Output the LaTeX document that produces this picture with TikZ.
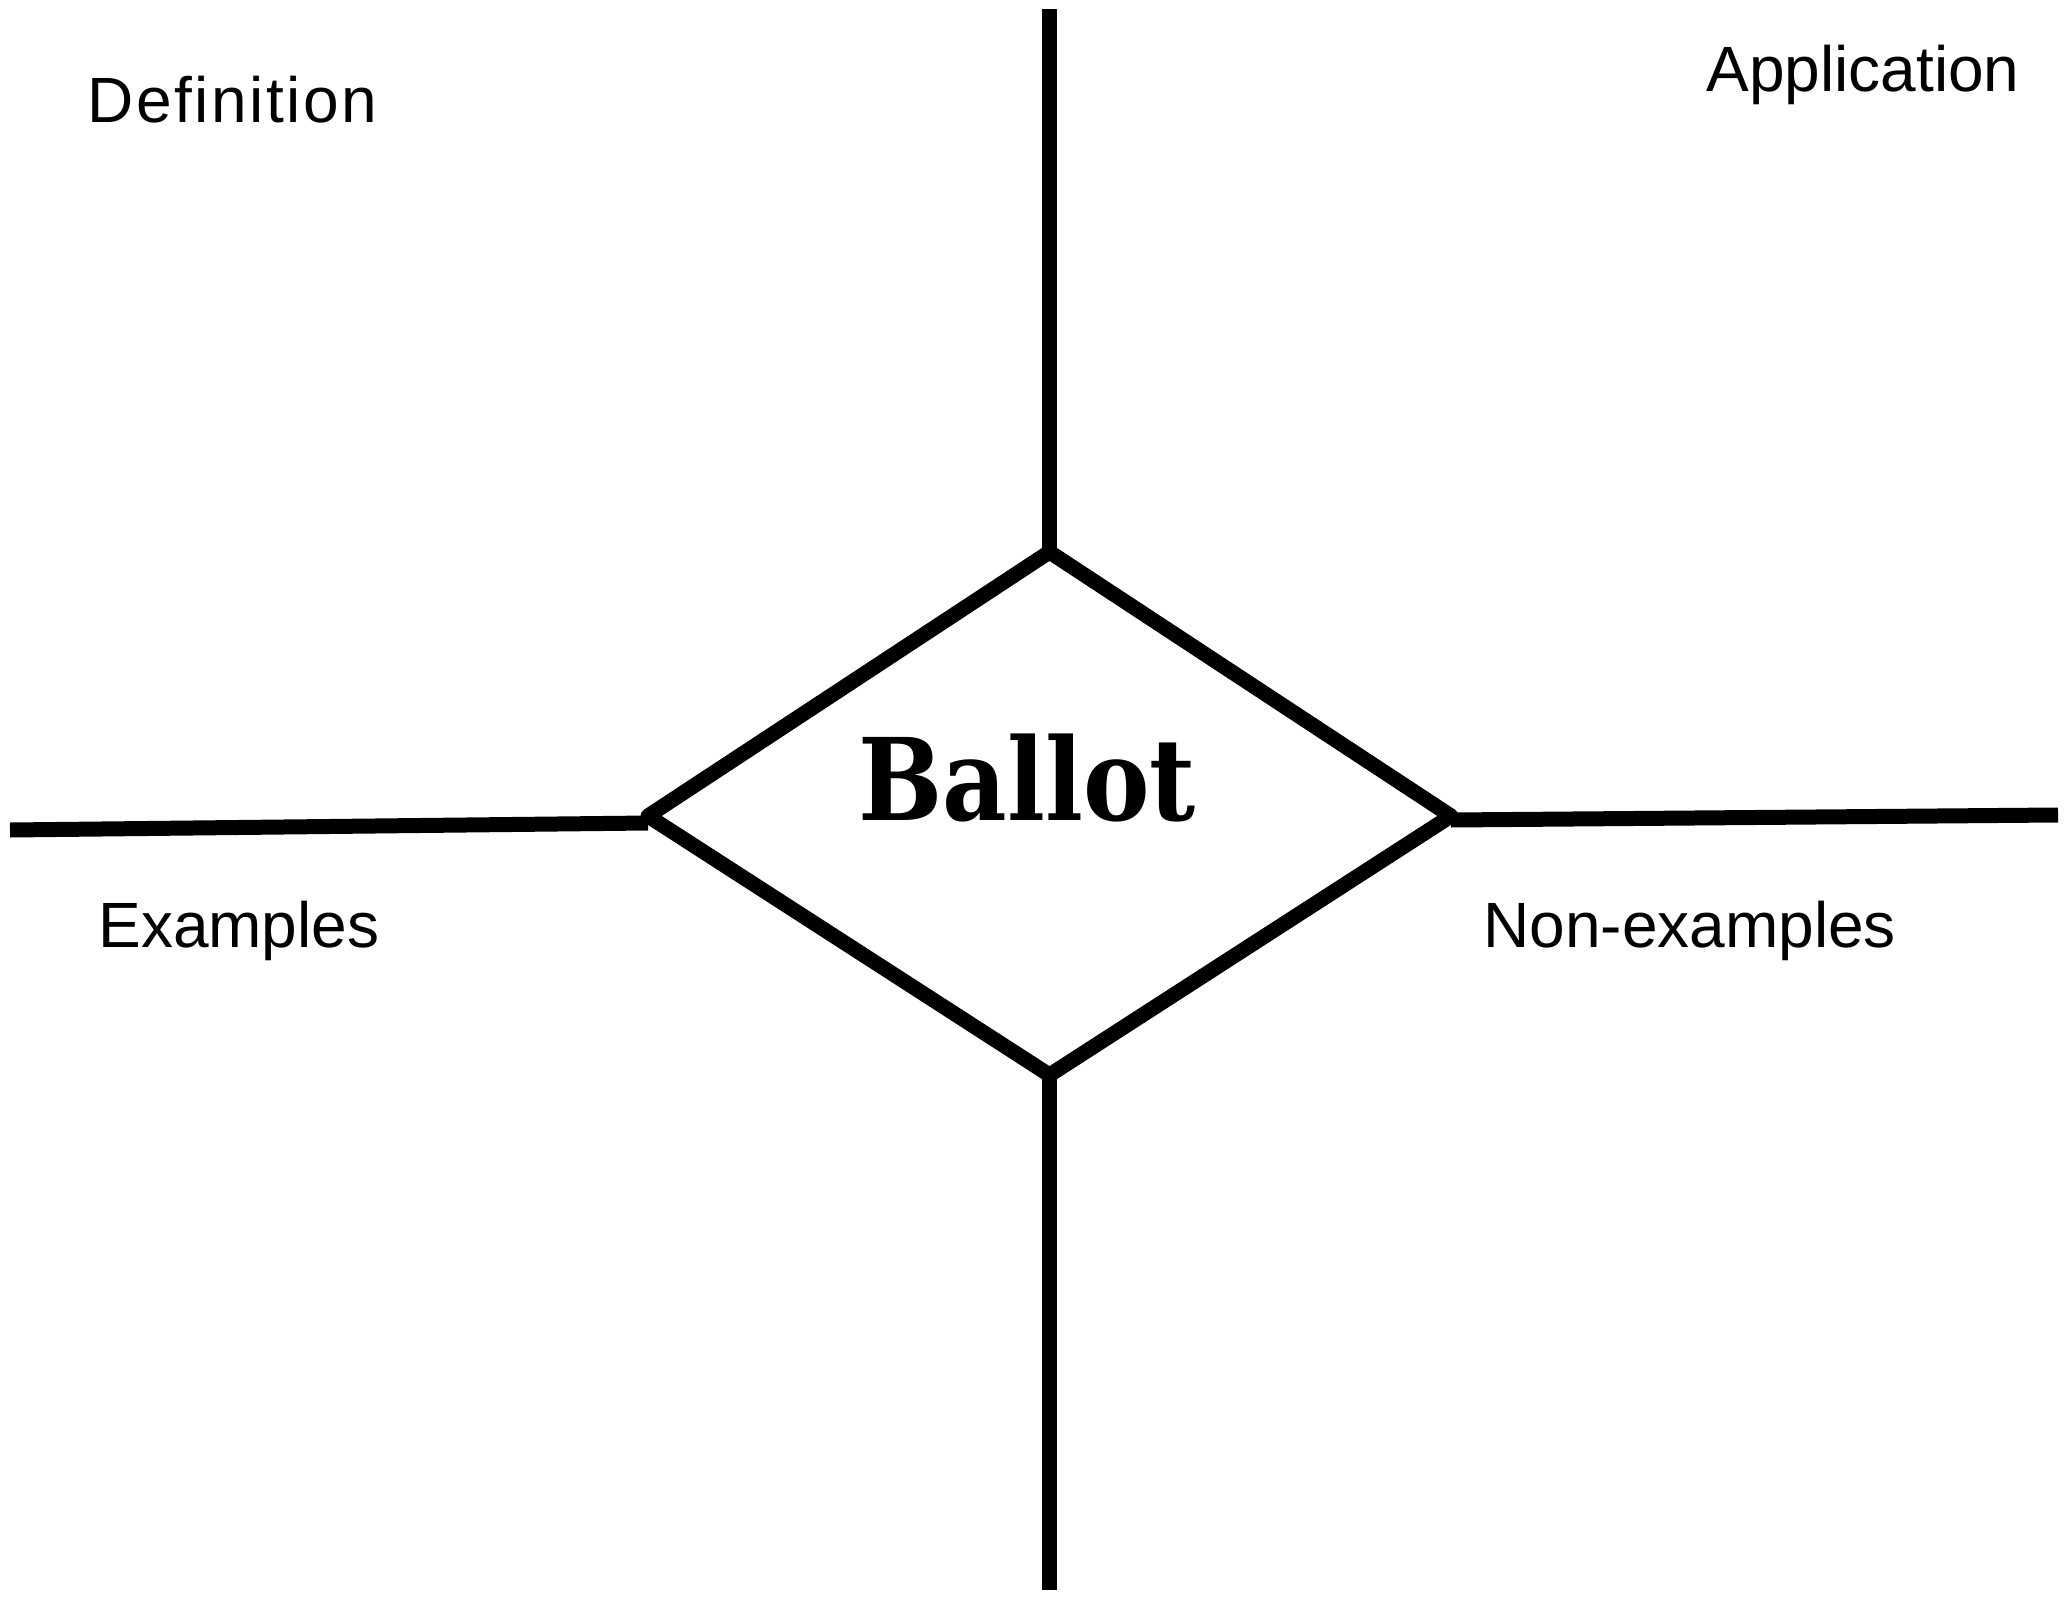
\documentclass[tikz,border=0pt]{standalone}
\usepackage{fontspec}
\newfontfamily\labelfont{Liberation Sans}
\newfontfamily\ballotfont{DejaVu Serif}
\begin{document}
\begin{tikzpicture}[x=0.5pt,y=-0.5pt,
  thick line/.style={line width=7.5pt,draw=black},
  label text/.style={inner sep=0pt,anchor=base west,font=\labelfont\fontsize{32pt}{38pt}\selectfont},
  title text/.style={inner sep=0pt,anchor=base west,font=\ballotfont\bfseries\fontsize{57pt}{66pt}\selectfont}]
\useasboundingbox[fill=white] (0,0) rectangle (2070,1599);
% diamond corners
\coordinate (T) at (1049.5,552);
\coordinate (L) at (648,816);
\coordinate (R) at (1451,816);
\coordinate (B) at (1049.5,1075);
% free line ends
\coordinate (top) at (1049.5,9);
\coordinate (bot) at (1049.5,1590);
\coordinate (lft) at (10,830);
\coordinate (lin) at (648,823);
\coordinate (rgt) at (2058,815);
\coordinate (rin) at (1451,820);
% spokes
\draw[thick line] (top) -- (T);
\draw[thick line] (B) -- (bot);
\draw[thick line] (lft) -- (lin);
\draw[thick line] (rin) -- (rgt);
% diamond
\draw[thick line,line join=round] (T) -- (R) -- (B) -- (L) -- cycle;
% labels
\node[label text] (def) at (87,123) {\addfontfeature{LetterSpace=4}Definition};
\node[label text] (app) at (1706,92) {Application};
\node[label text] (ex) at (98,947) {Examples};
\node[label text] (nex) at (1483,947) {Non-examples};
\node[title text] (ballot) at (858,820) {\scalebox{0.875}[1]{Ballot}};
\end{tikzpicture}
\end{document}
